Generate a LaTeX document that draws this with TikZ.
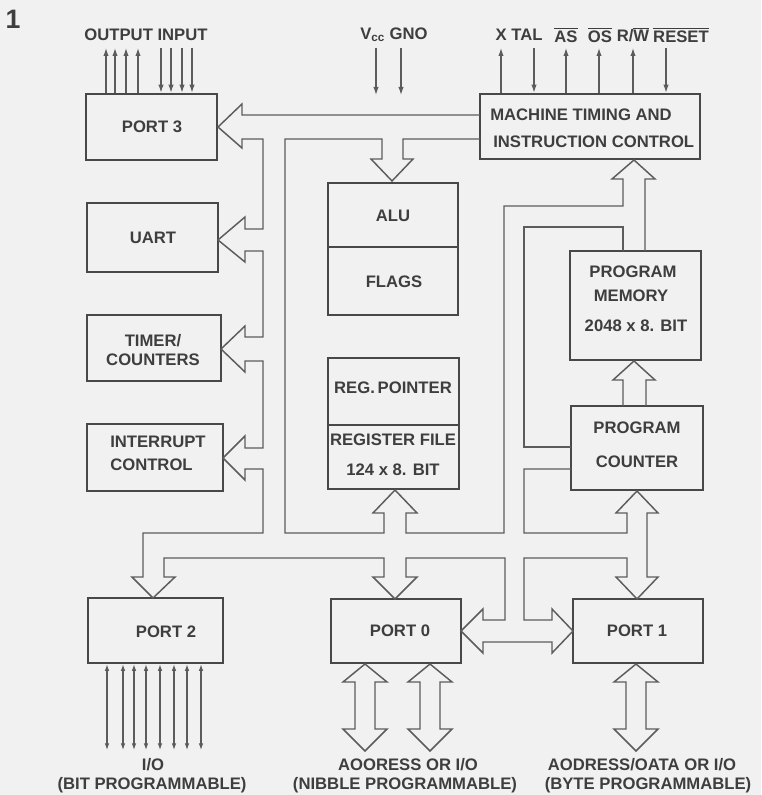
\documentclass[tikz,border=0pt]{standalone}
\usepackage{fontspec}
\setmainfont{Liberation Sans}
\usetikzlibrary{arrows.meta}
\definecolor{bgc}{HTML}{F1F1F1}
\definecolor{ln}{HTML}{5C5C5C}
\definecolor{bx}{HTML}{484848}
\definecolor{tx}{HTML}{3E3E3E}
\newcommand\ovl[1]{$\overline{\hbox{#1}}$}
\newcommand\blk[5]{\node[box, minimum width={(#4-#2)*0.75pt}, minimum height={(#5-#3)*0.75pt}] (#1) at ({(#2+#4)/2},{(#3+#5)/2}) {};}
\begin{document}
\begin{tikzpicture}[x=0.75pt,y=-0.75pt,
  box/.style={draw=bx, line width=1.9pt, inner sep=0pt},
  lbl/.style={text=tx, font=\bfseries\fontsize{12.5}{14}\selectfont, inner sep=0pt},
  bus/.style={draw=ln, line width=1.1pt, line join=miter},
  sig/.style={draw=ln, line width=0.9pt, -{Latex[length=6pt,width=4pt]}},
  sigb/.style={draw=ln, line width=0.9pt, {Latex[length=5pt,width=3.5pt]}-{Latex[length=5pt,width=3.5pt]}}]
\fill[bgc] (0,0) rectangle (761,795);
\useasboundingbox (0,0) rectangle (761,795);

% boxes
\blk{port3}{86}{94}{217}{160}
\blk{uart}{87}{203}{218}{272}
\blk{timer}{87}{315}{221}{381}
\blk{intr}{87}{424}{223}{491}
\blk{port2}{88}{598}{223}{663}
\blk{alu}{328}{183}{458}{247}
\blk{flags}{328}{247}{458}{315}
\blk{regp}{328}{358}{459}{425}
\blk{regf}{328}{425}{459}{489}
\blk{port0}{331}{599}{461}{663}
\blk{port1}{573}{599}{703}{663}
\blk{mtic}{480}{94}{700}{159}
\blk{pmem}{570}{251}{701}{360}
\blk{pc}{571}{406}{703}{490}

% texts in boxes
\node[lbl] (tport3) at (152,127) {PORT 3};
\node[lbl] (tuart) at (153,238) {UART};
\node[lbl] (ttim1) at (153,341) {TIMER/};
\node[lbl] (ttim2) at (153,360) {COUNTERS};
\node[lbl,anchor=west] (tint1) at (110,442) {INTERRUPT};
\node[lbl,anchor=west] (tint2) at (110,465) {CONTROL};
\node[lbl] (tport2) at (166,632) {PORT 2};
\node[lbl] (talu) at (393,216) {ALU};
\node[lbl] (tflags) at (394,282) {FLAGS};
\node[lbl] (tregp) at (393,388) {REG.\,POINTER};
\node[lbl] (tregf1) at (393,440) {REGISTER FILE};
\node[lbl] (tregf2) at (393,470) {124 x 8. BIT};
\node[lbl] (tport0) at (400,631) {PORT 0};
\node[lbl] (tport1) at (637,631) {PORT 1};
\node[lbl,anchor=west] (tmt1) at (490,115) {MACHINE TIMING AND};
\node[lbl,anchor=west] (tmt2) at (493,142) {INSTRUCTION CONTROL};
\node[lbl] (tpm1) at (633,272) {PROGRAM};
\node[lbl] (tpm2) at (631,296) {MEMORY};
\node[lbl] (tpm3) at (636,326) {2048 x 8. BIT};
\node[lbl] (tpc1) at (637,428) {PROGRAM};
\node[lbl] (tpc2) at (637,462) {COUNTER};

% title and top labels
\node[text=tx, font=\bfseries\fontsize{20}{20}\selectfont, inner sep=0pt] (title) at (13,19) {1};
\node[lbl] (lio) at (146,35) {OUTPUT INPUT};
\node[lbl] (lvcc) at (394,35) {V\textsubscript{cc} GNO};
\node[lbl] (lxtal) at (519,35) {X TAL};
\node[lbl] (las) at (566,35) {\ovl{AS}};
\node[lbl] (los) at (600,35) {\ovl{OS}};
\node[lbl] (lrw) at (633,35) {R/\ovl{W}};
\node[lbl] (lreset) at (681,35) {\ovl{RESET}};

% bottom labels
\node[lbl] (lb1) at (153,765) {I/O};
\node[lbl] (lb2) at (152,785) {(BIT PROGRAMMABLE)};
\node[lbl] (lb3) at (408,765) {AOORESS OR I/O};
\node[lbl] (lb4) at (405,785) {(NIBBLE PROGRAMMABLE)};
\node[lbl] (lb5) at (642,765) {AODRESS/OATA OR I/O};
\node[lbl] (lb6) at (648,785) {(BYTE PROGRAMMABLE)};

% port 3 signals
\foreach \x in {106,115,126,138} \draw[sig] (\x,94 |- port3.north) -- (\x,48);
\foreach \x in {161,171,182,192} \draw[sig] (\x,48) -- (\x,94 |- port3.north);
% power
\foreach \x in {376,401} \draw[sig] (\x,48) -- (\x,95);
% machine timing signals
\foreach \x in {501,566,599,633} \draw[sig] (\x,94 |- mtic.north) -- (\x,48);
\foreach \x in {534,666} \draw[sig] (\x,48) -- (\x,94 |- mtic.north);
% port 2 signals
\foreach \x in {107,123,134,146,160,174,187,201} \draw[sigb] (\x,663 |- port2.south) -- (\x,750);

% bus outlines
\draw[bus] (480,115) -- (242,115) -- (242,104) -- (218,127) -- (242,148) -- (242,139) -- (263,139)
  -- (263,229) -- (245,229) -- (245,217) -- (218,240) -- (245,262) -- (245,251) -- (263,251)
  -- (263,337) -- (245,337) -- (245,326) -- (221,349) -- (245,372) -- (245,361) -- (263,361)
  -- (263,448) -- (245,448) -- (245,436) -- (223,458) -- (245,480) -- (245,469) -- (263,469)
  -- (263,533) -- (143,533) -- (143,577) -- (132,577) -- (153,598) -- (175,577) -- (164,577)
  -- (164,558) -- (384,558) -- (384,577) -- (373,577) -- (395,599) -- (417,577) -- (406,577)
  -- (406,558) -- (505,558) -- (505,620) -- (483,620) -- (483,609) -- (461,631) -- (483,653)
  -- (483,642) -- (552,642) -- (552,653) -- (573,631) -- (552,609) -- (552,620) -- (524,620)
  -- (524,558) -- (627,558) -- (627,577) -- (616,577) -- (637,599) -- (658,577) -- (647,577)
  -- (647,513) -- (658,513) -- (637,491) -- (616,513) -- (627,513) -- (627,533) -- (524,533)
  -- (524,469) -- (571,469);
\draw[bus] (571,447) -- (524,447) -- (524,227) -- (623,227) -- (623,251);
\draw[bus] (645,251) -- (645,179) -- (655,179) -- (634,160) -- (612,179) -- (623,179) -- (623,206)
  -- (504,206) -- (504,533) -- (406,533) -- (406,513) -- (417,513) -- (395,490) -- (373,513)
  -- (384,513) -- (384,533) -- (285,533) -- (285,139) -- (382,139) -- (382,159) -- (371,159)
  -- (392,181) -- (413,159) -- (403,159) -- (403,139) -- (480,139);
% PC -> program memory
\draw[bus] (623,406) -- (623,380) -- (613,380) -- (634,361) -- (655,380) -- (646,380) -- (646,406);
% port 0 and port 1 external buses
\foreach \c in {365,430,636} {
  \draw[bus] (\c-10,682) -- (\c-22,682) -- (\c,664) -- (\c+22,682) -- (\c+10,682)
    -- (\c+10,729) -- (\c+22,729) -- (\c,751) -- (\c-22,729) -- (\c-10,729) -- cycle;
}
\end{tikzpicture}
\end{document}
